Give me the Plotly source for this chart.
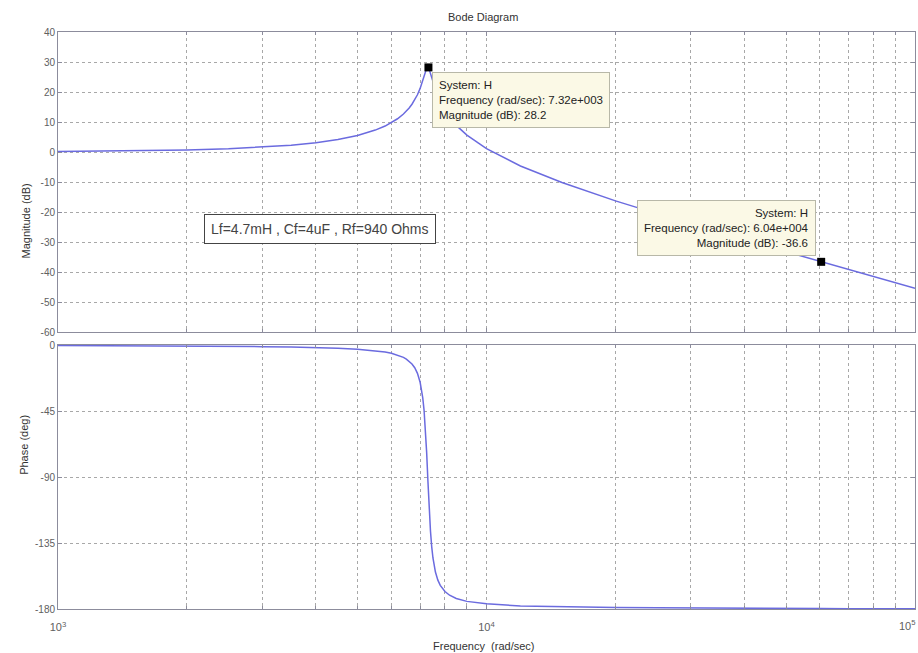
import math
import plotly.graph_objects as go

# ---- data ----
freq = [1000, 1500, 2000, 2500, 3000, 3500, 4000, 4500, 5000, 5500,
        5800, 6000, 6200, 6400, 6500, 6600, 6700, 6800, 6900, 7000,
        7050, 7100, 7150, 7200, 7250, 7300, 7320, 7350, 7400, 7450,
        7500, 7600, 7700, 7800, 8000, 8200, 8500, 9000, 10000, 12000,
        15000, 20000, 25000, 30000, 40000, 50000, 60400, 70000, 80000, 90000,
        100000]
magnitude_db = [0.17, 0.38, 0.68, 1.09, 1.61, 2.27, 3.11, 4.16, 5.51, 7.31,
                8.66, 9.78, 11.08, 12.67, 13.62, 14.69, 15.92, 17.36, 19.08, 21.2,
                22.44, 23.8, 25.29, 26.7, 27.87, 28.1, 28.2, 27.5, 26.1, 24.59,
                23.1, 20.44, 18.3, 16.49, 13.65, 11.44, 8.88, 5.63, 1.11, -4.65,
                -10.18, -16.29, -20.63, -24.04, -29.27, -33.26, -36.6, -39.19, -41.54, -43.6,
                -45.44]
phase_deg = [-0.31, -0.48, -0.66, -0.86, -1.1, -1.39, -1.75, -2.22, -2.88, -3.89,
             -4.81, -5.66, -6.81, -8.45, -9.58, -11.0, -12.9, -15.5, -19.3, -25.4,
             -29.9, -36.0, -44.5, -56.5, -73.2, -92.9, -100.7, -111.8, -126.8, -137.6,
             -145.2, -154.8, -160.3, -163.9, -168.1, -170.6, -172.8, -174.8, -176.5, -177.9,
             -178.6, -179.0, -179.2, -179.4, -179.55, -179.65, -179.7, -179.75, -179.78, -179.8,
             -179.82]

mag_ticks = [-60, -50, -40, -30, -20, -10, 0, 10, 20, 30, 40]
mag_ticktext = ["-60", "-50", "-40", "-30", "-20", "-10", "0", "10", "20", "30", "40"]
phase_ticks = [0, -45, -90, -135, -180]
phase_ticktext = ["0", "-45", "-90", "-135", "-180"]
freq_ticks = [1000, 10000]
freq_ticktext = ["10<sup>3</sup>", "10<sup>4</sup>"]
freq_last_tick = "10<sup>5</sup>"

tip1_freq, tip1_mag = 7320, 28.2
tip2_freq, tip2_mag = 60400, -36.6
note_text = "Lf=4.7mH , Cf=4uF , Rf=940 Ohms"

# ---- styling ----
LINE = "#6b6bdf"
FRAME = "#8c8c9c"
GRID = "#a8a8a8"
FAM = "Liberation Sans, Arial, sans-serif"
TICKFONT = dict(family=FAM, size=10, color="#606060")
XTICKFONT = dict(family=FAM, size=11, color="#606060")

minor_vals = [m * 10 ** e for e in (3, 4) for m in range(2, 10)]

fig = go.Figure()
fig.add_trace(go.Scatter(x=freq, y=magnitude_db, mode="lines",
                         line=dict(color=LINE, width=1.5), xaxis="x", yaxis="y",
                         showlegend=False, hoverinfo="skip"))
fig.add_trace(go.Scatter(x=freq, y=phase_deg, mode="lines",
                         line=dict(color=LINE, width=1.5), xaxis="x2", yaxis="y2",
                         showlegend=False, hoverinfo="skip"))
fig.add_trace(go.Scatter(x=[tip1_freq, tip2_freq], y=[tip1_mag, tip2_mag], mode="markers",
                         marker=dict(symbol="square", size=8, color="black"),
                         xaxis="x", yaxis="y", showlegend=False, hoverinfo="skip"))

xcommon = dict(type="log", range=[3, 5], showline=True, linecolor=FRAME, linewidth=1,
               mirror="ticks", ticks="inside", ticklen=4, tickcolor=FRAME,
               showgrid=True, gridcolor=GRID, griddash="dot", gridwidth=1,
               tickvals=freq_ticks, zeroline=False,
               minor=dict(tickvals=minor_vals, ticks="inside", ticklen=3, tickcolor=FRAME,
                          showgrid=True, gridcolor=GRID, griddash="dot", gridwidth=1))
ycommon = dict(showline=True, linecolor=FRAME, linewidth=1, mirror="ticks",
               ticks="inside", ticklen=4, tickcolor=FRAME,
               showgrid=True, gridcolor=GRID, griddash="dot", gridwidth=1,
               zeroline=False, tickfont=TICKFONT)

fig.update_layout(
    width=918, height=653,
    margin=dict(l=58, r=3, t=32, b=44),
    paper_bgcolor="white", plot_bgcolor="white",
    font=dict(family=FAM, size=10, color="#333333"),
    xaxis=dict(xcommon, anchor="y", showticklabels=False),
    yaxis=dict(ycommon, domain=[0.48, 1.0], range=[-60, 40],
               tickvals=mag_ticks, ticktext=mag_ticktext),
    xaxis2=dict(xcommon, anchor="y2", matches="x", showticklabels=True,
                ticktext=freq_ticktext, ticklabelstandoff=8, tickfont=XTICKFONT),
    yaxis2=dict(ycommon, domain=[0.0, 0.4575], range=[-180, 0],
                tickvals=phase_ticks, ticktext=phase_ticktext),
)

# last decade label (sits at the right edge of the plot)
fig.add_annotation(text=freq_last_tick, xref="paper", yref="paper", x=1.0, y=0.0,
                   xanchor="right", yanchor="top", xshift=3, yshift=-7,
                   showarrow=False, font=XTICKFONT)

labfont = dict(family=FAM, size=11, color="#333333")
fig.add_annotation(text="Bode Diagram", xref="paper", yref="paper", x=0.496, y=1.0,
                   yanchor="bottom", yshift=7, showarrow=False, font=labfont)
fig.add_annotation(text="Frequency  (rad/sec)", xref="paper", yref="paper", x=0.496, y=0.0,
                   yanchor="top", yshift=-29, showarrow=False, font=labfont)
fig.add_annotation(text="Magnitude (dB)", xref="paper", yref="paper", x=0.0, xshift=-40,
                   y=0.74, textangle=-90, showarrow=False, font=labfont)
fig.add_annotation(text="Phase (deg)", xref="paper", yref="paper", x=0.0, xshift=-42,
                   y=0.229, textangle=-90, showarrow=False, font=labfont)

tipfont = dict(family=FAM, size=11.5, color="#222222")
fig.add_annotation(
    text="System: H<br>Frequency (rad/sec): %.2fe+003<br>Magnitude (dB): %.1f" % (tip1_freq / 1000, tip1_mag),
    xref="x", yref="y", x=math.log10(tip1_freq), y=tip1_mag,
    xanchor="left", yanchor="top", xshift=4, yshift=-5, align="left",
    showarrow=False, bgcolor="#fbf9e6", bordercolor="#b8b8a8", borderwidth=1, borderpad=6,
    font=tipfont)
fig.add_annotation(
    text="System: H<br>Frequency (rad/sec): %.2fe+004<br>Magnitude (dB): %.1f" % (tip2_freq / 10000, tip2_mag),
    xref="x", yref="y", x=math.log10(tip2_freq), y=tip2_mag,
    xanchor="right", yanchor="bottom", xshift=-5, yshift=6, align="right",
    showarrow=False, bgcolor="#fbf9e6", bordercolor="#b8b8a8", borderwidth=1, borderpad=6,
    font=tipfont)
fig.add_annotation(
    text=note_text, xref="paper", yref="paper", x=0.1704, y=0.6586,
    xanchor="left", yanchor="middle", showarrow=False,
    bgcolor="white", bordercolor="#444444", borderwidth=1, borderpad=6,
    font=dict(family=FAM, size=14, color="#444444"))

fig.write_html("out.html", config={"displayModeBar": False},
               post_script="document.body.style.margin='0px';")
